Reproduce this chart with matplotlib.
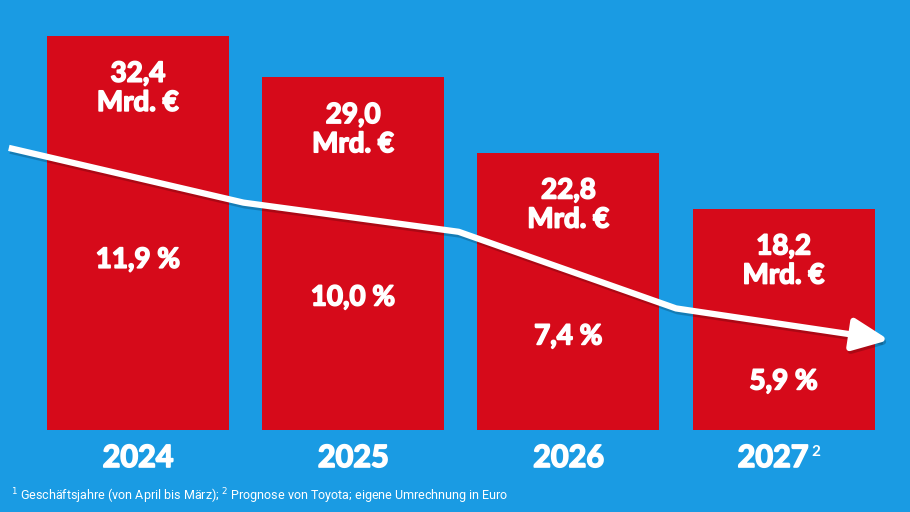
import matplotlib.pyplot as plt
from matplotlib import font_manager
from matplotlib.patches import FancyArrowPatch
from matplotlib.path import Path
import matplotlib.patheffects as pe

years = ['2024', '2025', '2026', '2027']
profit = [32.4, 29.0, 22.8, 18.2]          # Mrd. Euro
margin = [11.9, 10.0, 7.4, 5.9]            # Prozent
# illustrative trend arrow (bar units)
trend_x = [-0.6, 0.49, 1.49, 2.5, 3.49]
trend_y = [23.2, 18.7, 16.3, 10.0, 7.4]

blue = '#1a9be3'
red = '#d60a1a'

names = {f.name for f in font_manager.fontManager.ttflist}
if 'Liberation Sans Narrow' in names:
    note_font, note_size = 'Liberation Sans Narrow', 10.5
else:
    note_font, note_size = 'Roboto', 9.0
head_font = ['Lato', 'DejaVu Sans']
bold = [pe.withStroke(linewidth=1.2, foreground='white')]

fig = plt.figure(figsize=(9.1, 5.12), dpi=100, facecolor=blue)
ax = fig.add_axes([0, 0, 1, 1])
ax.set_facecolor(blue)
ax.set_xlim(-0.641, 3.587)
ax.set_ylim(-6.74, 35.36)
ax.axis('off')

x = range(len(years))
ax.bar(x, profit, width=0.845, color=red, zorder=1)

for i, v in enumerate(profit):
    ax.text(i, v - 4.3, '{:.1f}\nMrd. €'.format(v).replace('.', ',', 1),
            ha='center', va='center', color='white', fontsize=20,
            fontweight='bold', family=head_font, linespacing=1.15, zorder=4,
            path_effects=bold)

pct_y = [14.0, 10.9, 7.7, 4.0]
for i, (p, py) in enumerate(zip(margin, pct_y)):
    ax.text(i, py, '{:.1f} %'.format(p).replace('.', ','),
            ha='center', va='center', color='white', fontsize=20,
            fontweight='bold', family=head_font, zorder=4, path_effects=bold)

for i, yr in enumerate(years):
    xpos = i - 0.05 if i == 3 else i
    ax.text(xpos, -2.3, yr, ha='center', va='center', color='white',
            fontsize=22, fontweight='bold', family=head_font, path_effects=bold)
ax.text(3.15, -1.8, '2', ha='center', va='center', color='white',
        fontsize=11, fontweight='bold', family=head_font)

shadow = [pe.SimpleLineShadow(offset=(1, -2), shadow_color='k', alpha=0.2), pe.Normal()]
trend = Path(list(zip(trend_x, trend_y)))
arrow = FancyArrowPatch(path=trend,
                        arrowstyle='-|>,head_length=1.0,head_width=0.45',
                        mutation_scale=22, color='white', lw=4.5,
                        joinstyle='round', capstyle='butt', zorder=3,
                        path_effects=shadow)
ax.add_patch(arrow)

fig.text(0.012, 0.031, '$^1$ Geschäftsjahre (von April bis März); $^2$ Prognose von Toyota; eigene Umrechnung in Euro',
         ha='left', va='center', color='white', fontsize=note_size, family=note_font)

fig.savefig('out.png', dpi=100, facecolor=blue)
